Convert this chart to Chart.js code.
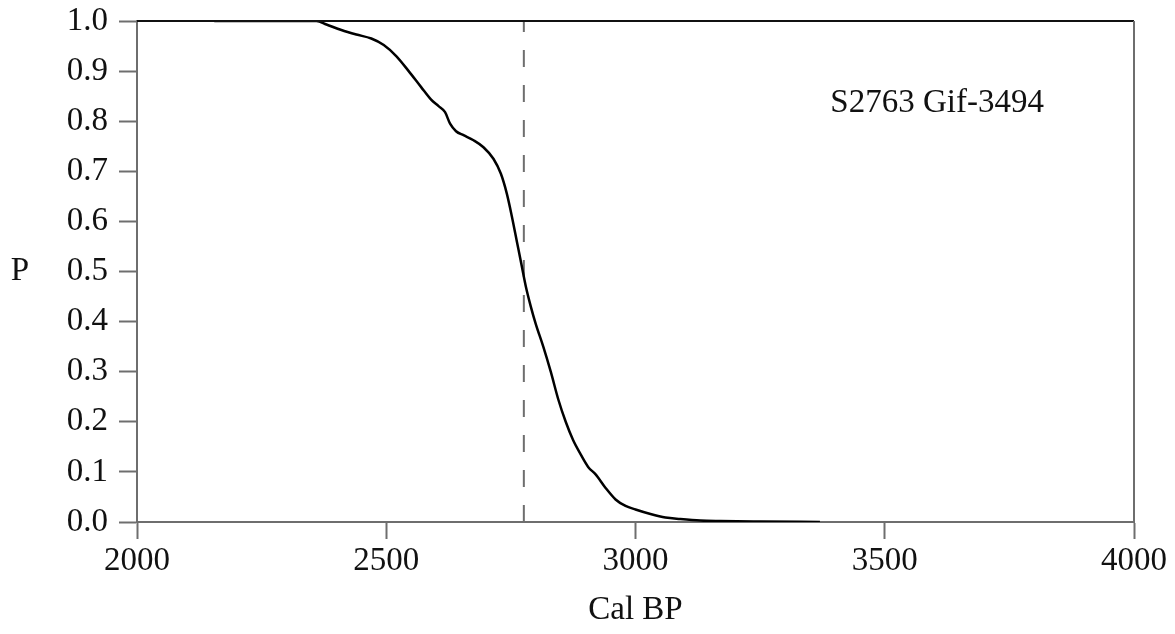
<!DOCTYPE html>
<html>
<head>
<meta charset="utf-8">
<script src="https://cdn.jsdelivr.net/npm/chart.js@4/dist/chart.umd.min.js"></script>
<style>
  html, body { margin: 0; padding: 0; background: #fff; }
  #c { display: block; }
</style>
</head>
<body>
<canvas id="c" width="1175" height="634"></canvas>
<script>
// cumulative probability curve
const calBP = [2155, 2360, 2380, 2410, 2440, 2470, 2495, 2520, 2545, 2570, 2590, 2605, 2618, 2628,
  2640, 2655, 2675, 2695, 2715, 2730, 2742, 2752, 2762, 2772, 2780, 2790, 2800, 2815, 2830, 2845,
  2860, 2875, 2890, 2905, 2920, 2940, 2960, 2980, 3000, 3030, 3060, 3090, 3130, 3170, 3250, 3370];
const probP = [1.0, 1.0, 0.993, 0.982, 0.973, 0.965, 0.952, 0.93, 0.9, 0.868, 0.843, 0.83, 0.818, 0.795,
  0.78, 0.772, 0.762, 0.748, 0.725, 0.695, 0.655, 0.61, 0.56, 0.51, 0.47, 0.43, 0.395, 0.35, 0.3, 0.245,
  0.2, 0.163, 0.135, 0.11, 0.095, 0.068, 0.045, 0.032, 0.025, 0.016, 0.009, 0.006, 0.003, 0.002, 0.001, 0.0];

const medianBP = 2776;
const xTicks = [2000, 2500, 3000, 3500, 4000];
const yTicks = [0, 0.1, 0.2, 0.3, 0.4, 0.5, 0.6, 0.7, 0.8, 0.9, 1.0];
const sampleLabel = "S2763 Gif-3494";
const labelAt = { x: 3605, y: 0.835 };

const FONT = "'Liberation Serif', 'DejaVu Serif', serif";
const FONT_SIZE = 33;
const AXIS_GREY = "#6e6e6e";

const frameAndText = {
  id: "frameAndText",
  afterDraw(chart) {
    const { ctx, chartArea: a, scales } = chart;
    ctx.save();
    // top + right frame
    ctx.lineWidth = 2;
    ctx.strokeStyle = "#111";
    ctx.beginPath();
    ctx.moveTo(a.left, a.top);
    ctx.lineTo(a.right, a.top);
    ctx.stroke();
    ctx.strokeStyle = AXIS_GREY;
    ctx.beginPath();
    ctx.moveTo(a.right, a.top);
    ctx.lineTo(a.right, a.bottom);
    ctx.stroke();

    ctx.fillStyle = "#111";
    ctx.font = FONT_SIZE + "px " + FONT;
    ctx.textAlign = "center";
    ctx.textBaseline = "middle";
    ctx.fillText(sampleLabel, scales.x.getPixelForValue(labelAt.x), scales.y.getPixelForValue(labelAt.y));
    // horizontal "P" label
    ctx.fillText("P", 20, (a.top + a.bottom) / 2);
    ctx.restore();
  }
};

new Chart(document.getElementById("c"), {
  type: "scatter",
  data: {
    datasets: [
      {
        label: "P",
        data: calBP.map((x, i) => ({ x, y: probP[i] })),
        showLine: true,
        borderColor: "#000",
        borderWidth: 2.5,
        pointRadius: 0,
        cubicInterpolationMode: "monotone",
      },
      {
        label: "median",
        data: [{ x: medianBP, y: 0 }, { x: medianBP, y: 1 }],
        showLine: true,
        borderColor: AXIS_GREY,
        borderWidth: 2,
        borderDash: [17, 18],
        pointRadius: 0,
      },
    ],
  },
  options: {
    responsive: false,
    animation: false,
    layout: { padding: { top: 21, right: 41, left: 0, bottom: 0 } },
    plugins: { legend: { display: false }, tooltip: { enabled: false } },
    scales: {
      x: {
        type: "linear",
        min: 2000,
        max: 4000,
        afterBuildTicks: (s) => { s.ticks = xTicks.map((v) => ({ value: v })); },
        afterFit: (s) => { s.height = 112; s.paddingLeft = 0; s.paddingRight = 0; },
        border: { color: AXIS_GREY, width: 2 },
        grid: { drawOnChartArea: false, tickLength: 17, tickColor: AXIS_GREY, tickWidth: 2 },
        ticks: {
          color: "#111",
          font: { family: FONT, size: FONT_SIZE },
          padding: 3,
          maxRotation: 0,
          callback: (v) => String(v),
        },
        title: { display: true, text: "Cal BP", color: "#111", font: { family: FONT, size: FONT_SIZE }, padding: { top: 19 } },
      },
      y: {
        type: "linear",
        min: 0,
        max: 1,
        afterBuildTicks: (s) => { s.ticks = yTicks.map((v) => ({ value: v })); },
        afterFit: (s) => { s.width = 137; s.paddingTop = 0; s.paddingBottom = 0; },
        border: { color: AXIS_GREY, width: 2 },
        grid: { drawOnChartArea: false, tickLength: 18, tickColor: AXIS_GREY, tickWidth: 2 },
        ticks: {
          color: "#111",
          font: { family: FONT, size: FONT_SIZE },
          padding: 11,
          callback: (v) => Number(v).toFixed(1),
        },
      },
    },
  },
  plugins: [frameAndText],
});
</script>
</body>
</html>
